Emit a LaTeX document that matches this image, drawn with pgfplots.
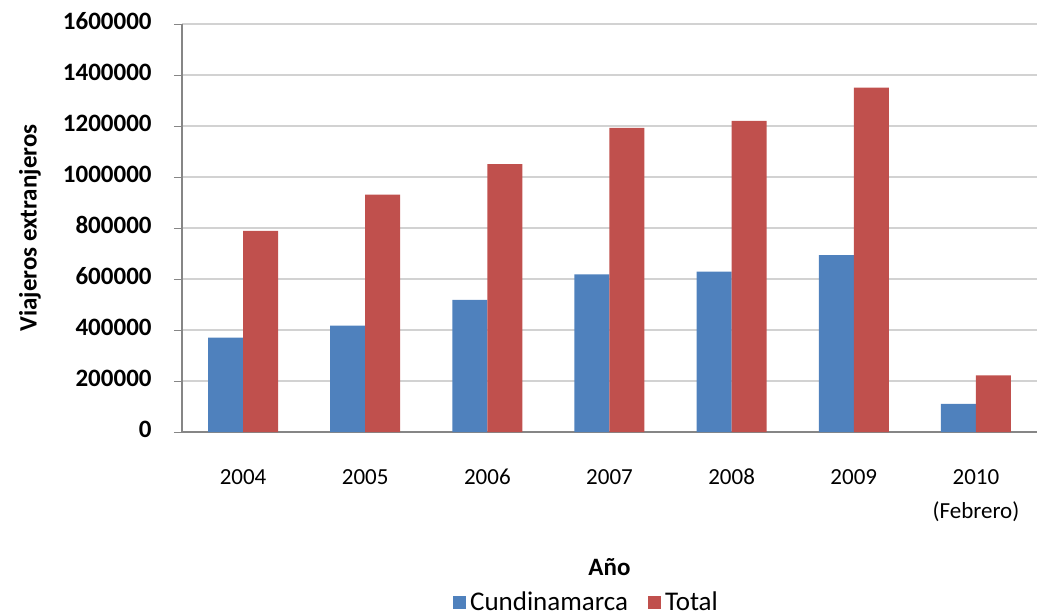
\documentclass[border=0pt]{standalone}
\usepackage{pgfplots}
\pgfplotsset{compat=1.18}
\usepackage{fontspec}
\setmainfont{Carlito}
\definecolor{cblue}{HTML}{4F81BD}
\definecolor{cred}{HTML}{C0504D}
\definecolor{axgray}{HTML}{868686}
\begin{document}
\fontsize{12}{14.5}\selectfont
\begin{tikzpicture}
\useasboundingbox (-91pt,-91.5pt) rectangle (428.5pt,216pt);
\begin{axis}[
  at={(0,0)}, anchor=south west,
  scale only axis, width=427.5pt, height=204pt,
  xmin=-0.5, xmax=6.5,
  ymin=0, ymax=1600000,
  ytick={0,200000,400000,600000,800000,1000000,1200000,1400000,1600000},
  scaled y ticks=false,
  /pgf/number format/.cd, fixed, 1000 sep={}, assume math mode=true,
  /pgfplots/.cd,
  typeset ticklabels with strut,
  xtick={0,1,2,3,4,5,6},
  xticklabels={2004,2005,2006,2007,2008,2009,{2010\\(Febrero)}},
  xticklabel style={align=center, font=\fontsize{11.5}{17}\selectfont, yshift=-6pt},
  yticklabel style={font=\fontsize{12.5}{14.5}\selectfont\bfseries, xshift=-7pt},
  x tick style={draw=none},
  y tick style={axgray},
  tick align=outside,
  major tick length=4pt,
  axis x line*=bottom, axis y line*=left,
  axis line style={axgray, line width=0.8pt},
  ymajorgrids, grid style={gray!35, line width=0.6pt},
  ybar=0pt, bar width=17.5pt,
  ylabel={\textbf{Viajeros extranjeros}},
  ylabel style={at={(axis description cs:0,0.5)}, anchor=center, yshift=76pt, font=\fontsize{12.5}{14.5}\selectfont},
  xlabel={\textbf{Año}},
  xlabel style={at={(axis description cs:0.5,0)}, anchor=center, yshift=-67.5pt, font=\fontsize{12.5}{14.5}\selectfont},
  legend style={at={(axis description cs:0.5,0)}, anchor=center, yshift=-85.5pt, xshift=-11pt,
    draw=none, fill=none, legend columns=2, font=\fontsize{13.5}{15}\selectfont,
    /tikz/every even column/.append style={column sep=8pt},
    /tikz/every odd column/.append style={inner xsep=1pt}},
  legend image code/.code={\fill[#1] (0pt,-3.2pt) rectangle (6.5pt,3.3pt);},
]
\addplot[fill=cblue, draw=none] coordinates {
(0,370000) (1,417000) (2,518000) (3,618000) (4,629000) (5,694000) (6,110000)};
\addplot[fill=cred, draw=none] coordinates {
(0,789000) (1,931000) (2,1050000) (3,1193000) (4,1220000) (5,1350000) (6,222000)};
\legend{Cundinamarca, Total}
\end{axis}
\end{tikzpicture}
\end{document}
